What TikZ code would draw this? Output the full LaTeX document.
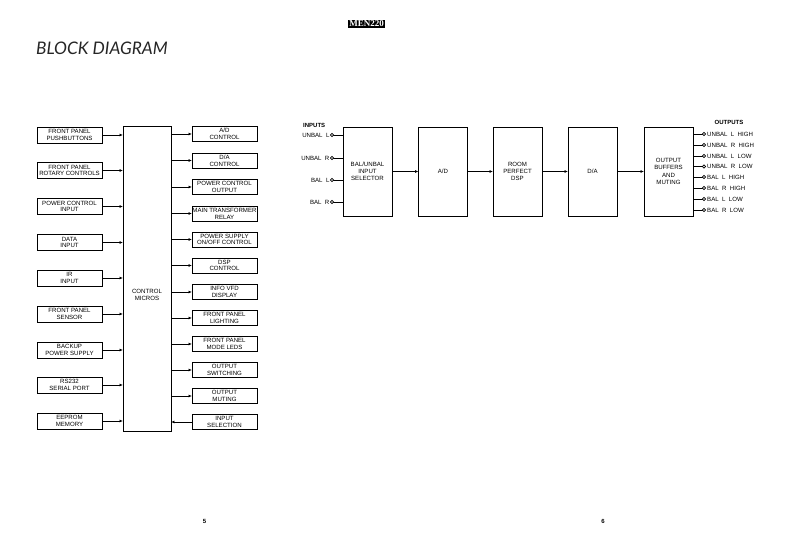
\documentclass[tikz,border=0pt]{standalone}
\usepackage{fontspec}
\setmainfont{Liberation Sans}
\newfontfamily\titlefont{Lato}
\newfontfamily\hdrfont{Liberation Serif}
\usetikzlibrary{arrows.meta}
\newcommand\wsp{\hspace{3.4pt}}
\begin{document}
\begin{tikzpicture}[x=1pt,y=-1pt,
 box/.style={draw=black, line width=0.8pt, inner sep=0pt, align=center, font=\fontsize{6.1}{6.8}\selectfont},
 lbox/.style={box, minimum width=65pt, minimum height=16pt},
 rbox/.style={box, minimum width=65pt, minimum height=15pt},
 cbox/.style={box, minimum width=49pt, minimum height=89pt, font=\fontsize{6.1}{7.3}\selectfont},
 arr/.style={line width=0.9pt, -{Triangle[length=3pt,width=2.6pt]}},
 wire/.style={line width=0.9pt},
 term/.style={circle, draw=black, line width=0.8pt, fill=white, minimum size=3.2pt, inner sep=0pt},
 lab/.style={font=\fontsize{6.1}{7}\selectfont, inner sep=0pt}]
\useasboundingbox (0,0) rectangle (793,537);
\fill[white] (0,0) rectangle (793,537);
% header
\node[fill=black, text=white, inner sep=1.2pt, font=\hdrfont\bfseries\fontsize{9}{9}\selectfont] (hdr) at (366.5,24) {MEN220};
\node[anchor=west, inner sep=0pt, font=\titlefont\itshape\fontsize{17.3}{18}\selectfont, text=black!85] (title) at (36,48) {BLOCK DIAGRAM};
% left column
\foreach \n/\y/\t in {1/135/{FRONT PANEL\\PUSHBUTTONS},
  2/170.5/{FRONT PANEL\\ROTARY CONTROLS},
  3/206.5/{POWER CONTROL\\INPUT},
  4/242.5/{DATA\\INPUT},
  5/278/{IR\\INPUT},
  6/314/{FRONT PANEL\\SENSOR},
  7/350/{BACKUP\\POWER SUPPLY},
  8/385/{RS232\\SERIAL PORT},
  9/421/{EEPROM\\MEMORY}}
  \node[lbox] (L\n) at (69.5,\y) {\t};
% micros
\node[box, minimum width=48pt, minimum height=305pt] (M) at (147,278.5) {};
\node[lab, align=center] (Mtxt) at (147,295) {CONTROL\\MICROS};
% right column
\foreach \n/\y/\t in {1/134/{A/D\\CONTROL},
  2/160.5/{D/A\\CONTROL},
  3/187/{POWER CONTROL\\OUTPUT},
  4/213.5/{MAIN TRANSFORMER\\RELAY},
  5/239.5/{POWER SUPPLY\\ON/OFF CONTROL},
  6/265.5/{DSP\\CONTROL},
  7/292/{INFO VFD\\DISPLAY},
  8/318/{FRONT PANEL\\LIGHTING},
  9/344/{FRONT PANEL\\MODE LEDS},
  10/370/{OUTPUT\\SWITCHING},
  11/396/{OUTPUT\\MUTING},
  12/422/{INPUT\\SELECTION}}
  \node[rbox] (R\n) at (224.5,\y) {\t};
\foreach \n in {1,...,9}
  \draw[arr] (L\n.east) -- (L\n.east -| M.west);
\foreach \n in {1,...,11}
  \draw[arr] (R\n.west -| M.east) -- (R\n.west);
\draw[arr] (R12.west) -- (R12.west -| M.east);
% signal chain
\node[cbox] (S1) at (367.5,171.5) {BAL/UNBAL\\INPUT\\SELECTOR};
\node[cbox] (S2) at (443,171.5) {A/D};
\node[cbox] (S3) at (517.5,171.5) {ROOM\\PERFECT\\DSP};
\node[cbox] (S4) at (592.5,171.5) {D/A};
\node[cbox] (S5) at (668.5,171.5) {OUTPUT\\BUFFERS\\AND\\MUTING};
\foreach \a/\b in {S1/S2,S2/S3,S3/S4,S4/S5}
  \draw[arr] (\a.east) -- (\b.west);
% inputs
\node[lab, anchor=west, font=\bfseries\fontsize{6}{7}\selectfont] (inlab) at (303,125) {INPUTS};
\foreach \n/\y/\t in {1/135/{UNBAL\wsp L}, 2/158/{UNBAL\wsp R}, 3/180/{BAL\wsp L}, 4/202/{BAL\wsp R}} {
  \draw[wire] (332,\y) -- (S1.west |- 0,\y);
  \node[term] (I\n) at (332,\y) {};
  \node[lab, anchor=east] (IL\n) at (329.6,\y) {\t};
}
% outputs
\node[lab, font=\bfseries\fontsize{6}{7}\selectfont] (outlab) at (729,122) {OUTPUTS};
\foreach \n/\y/\t in {1/134/{UNBAL\wsp L\wsp HIGH}, 2/145/{UNBAL\wsp R\wsp HIGH},
  3/156/{UNBAL\wsp L\wsp LOW}, 4/166.5/{UNBAL\wsp R\wsp LOW},
  5/177/{BAL\wsp L\wsp HIGH}, 6/188/{BAL\wsp R\wsp HIGH},
  7/199/{BAL\wsp L\wsp LOW}, 8/210/{BAL\wsp R\wsp LOW}} {
  \draw[wire] (S5.east |- 0,\y) -- (704,\y);
  \node[term] (O\n) at (704,\y) {};
  \node[lab, anchor=west] (OL\n) at (707,\y) {\t};
}
% page numbers
\node[lab, font=\bfseries\fontsize{6}{7}\selectfont] (p5) at (204.5,521) {5};
\node[lab, font=\bfseries\fontsize{6}{7}\selectfont] (p6) at (603,521) {6};
\end{tikzpicture}
\end{document}
